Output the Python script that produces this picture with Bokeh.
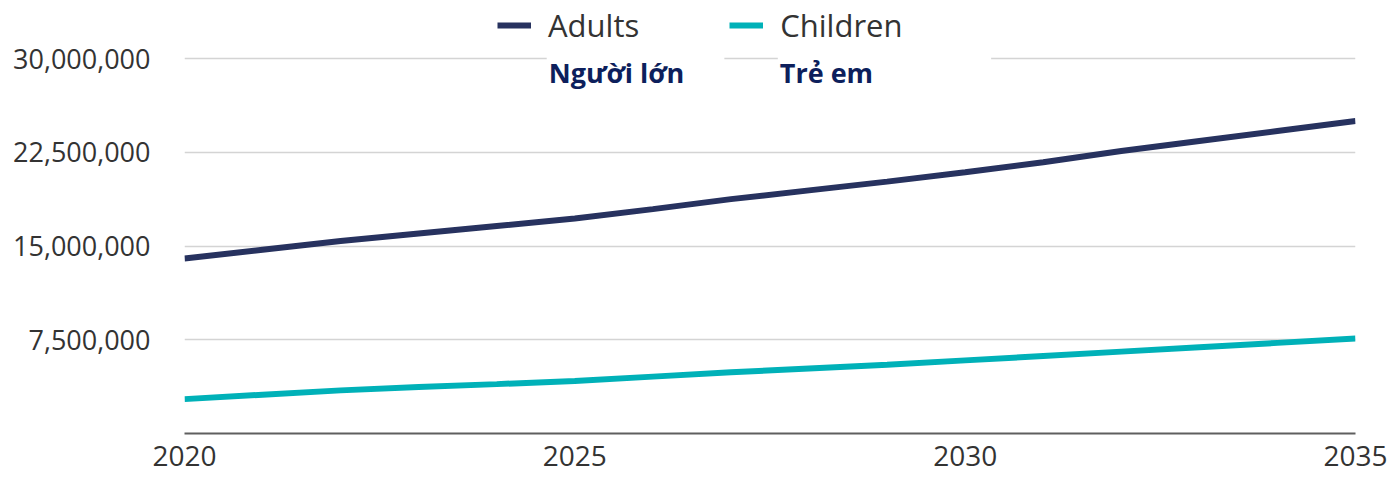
from bokeh.plotting import figure
from bokeh.models import (FixedTicker, NumeralTickFormatter, Legend, LegendItem,
                          Label, Range1d, ColumnDataSource)
from bokeh.embed import file_html
from bokeh.resources import INLINE

years = [2020, 2021, 2022, 2023, 2024, 2025, 2026, 2027, 2028, 2029,
         2030, 2031, 2032, 2033, 2034, 2035]
adults = [14.0e6, 14.7e6, 15.4e6, 16.0e6, 16.6e6, 17.2e6, 17.95e6, 18.75e6,
          19.45e6, 20.15e6, 20.9e6, 21.7e6, 22.6e6, 23.4e6, 24.2e6, 25.0e6]
children = [2.75e6, 3.1e6, 3.45e6, 3.72e6, 3.95e6, 4.2e6, 4.55e6, 4.9e6,
            5.2e6, 5.5e6, 5.85e6, 6.2e6, 6.55e6, 6.9e6, 7.25e6, 7.6e6]
series_names = ["Adults", "Children"]
overlay_labels = ["Người lớn", "Trẻ em"]
y_ticks = [7.5e6, 15e6, 22.5e6, 30e6]
x_ticks = [2020, 2025, 2030, 2035]

NAVY = "#27325f"
TEAL = "#00b1b8"
FONT = "Open Sans"

src = ColumnDataSource(dict(year=years, adults=adults, children=children))

p = figure(width=1388, height=478, output_backend="svg", toolbar_location=None,
           x_range=Range1d(2020, 2035), y_range=Range1d(0, 34.64e6),
           min_border_left=184, min_border_right=33, min_border_top=0,
           min_border_bottom=45)
p.outline_line_color = None
p.background_fill_color = "white"
p.border_fill_color = "white"

r1 = p.line("year", "adults", source=src, line_color=NAVY, line_width=6)
r2 = p.line("year", "children", source=src, line_color=TEAL, line_width=6)

# y axis
p.yaxis.ticker = FixedTicker(ticks=y_ticks)
p.yaxis.formatter = NumeralTickFormatter(format="0,0")
p.yaxis.axis_line_color = None
p.yaxis.major_tick_line_color = None
p.yaxis.minor_tick_line_color = None
p.yaxis.major_label_standoff = 28
p.yaxis.major_label_text_font = FONT
p.yaxis.major_label_text_font_size = "27px"
p.yaxis.major_label_text_color = "#333333"

# x axis
p.xaxis.ticker = FixedTicker(ticks=x_ticks)
p.xaxis.axis_line_color = "#5f5f5f"
p.xaxis.axis_line_width = 2
p.xaxis.major_tick_line_color = None
p.xaxis.minor_tick_line_color = None
p.xaxis.major_label_standoff = 6
p.xaxis.major_label_text_font = FONT
p.xaxis.major_label_text_font_size = "28px"
p.xaxis.major_label_text_color = "#333333"

p.xgrid.grid_line_color = None
p.ygrid.ticker = FixedTicker(ticks=y_ticks)
p.ygrid.grid_line_color = "#d4d4d4"
p.ygrid.grid_line_width = 1.5

legend = Legend(items=[LegendItem(label=series_names[0], renderers=[r1]),
                       LegendItem(label=series_names[1], renderers=[r2])],
                orientation="horizontal", location=(313, 387),
                background_fill_alpha=0, border_line_color=None,
                label_text_font=FONT, label_text_font_size="31px",
                label_text_color="#333333", glyph_width=34, glyph_height=30,
                label_standoff=17, spacing=90, padding=0, margin=0)
p.add_layout(legend, "center")

lab1 = Label(x=2024.64, y=28.85e6, text=overlay_labels[0], text_font=FONT,
             text_font_style="bold", text_font_size="27px", text_color="#0d1f5c",
             text_baseline="middle", background_fill_color="white",
             padding=(2, 40, 2, 2))
lab2 = Label(x=2027.60, y=28.85e6, text=overlay_labels[1], text_font=FONT,
             text_font_style="bold", text_font_size="27px", text_color="#0d1f5c",
             text_baseline="middle", background_fill_color="white",
             padding=(2, 118, 2, 2))
p.add_layout(lab1)
p.add_layout(lab2)

open("out.html", "w").write(file_html(p, INLINE))
